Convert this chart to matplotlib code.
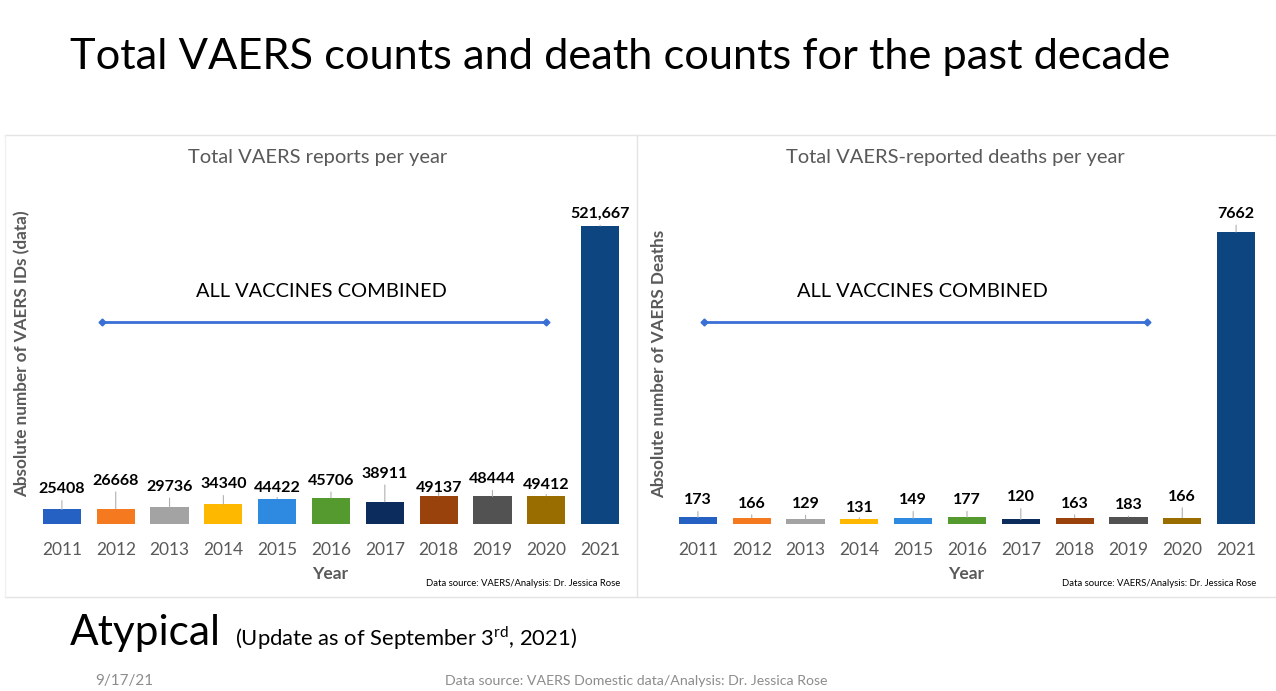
import matplotlib.pyplot as plt
from matplotlib.transforms import blended_transform_factory

plt.rcParams['font.family'] = ['Lato', 'DejaVu Sans']
plt.rcParams['mathtext.fontset'] = 'custom'
plt.rcParams['mathtext.rm'] = 'Lato'

W, H = 1276, 691

years = ['2011', '2012', '2013', '2014', '2015', '2016',
         '2017', '2018', '2019', '2020', '2021']
reports = [25408, 26668, 29736, 34340, 44422, 45706,
           38911, 49137, 48444, 49412, 521667]
report_labels = ['25408', '26668', '29736', '34340', '44422', '45706',
                 '38911', '49137', '48444', '49412', '521,667']
deaths = [173, 166, 129, 131, 149, 177, 120, 163, 183, 166, 7662]
death_labels = [str(d) for d in deaths]

bar_colors = ['#2461c2', '#f57a1f', '#a3a3a3', '#ffb800', '#2e8ae0', '#559a2e',
              '#0d2c5e', '#9a420c', '#525252', '#9a6d00', '#0c4580']

# callout offsets above the bar tops (pixels)
report_offsets = [20, 28, 20, 20, 11, 17, 28, 8, 17, 11, 12]
death_offsets = [17, 14, 15, 11, 18, 17, 22, 14, 12, 21, 18]


def fx(x):
    return x / W


def fy(y):
    return 1 - y / H


fig = plt.figure(figsize=(W / 100, H / 100), dpi=100)
fig.patch.set_facecolor('white')

# panel frame lines
frame = '#e4e4e4'
fig.add_artist(plt.Line2D([fx(5), 1], [fy(135), fy(135)], color=frame, lw=1))
fig.add_artist(plt.Line2D([fx(5), 1], [fy(597), fy(597)], color=frame, lw=1))
fig.add_artist(plt.Line2D([fx(637), fx(637)], [fy(135), fy(597)], color=frame, lw=1))
fig.add_artist(plt.Line2D([fx(5), fx(5)], [fy(135), fy(597)], color='#f0f0f0', lw=1))


def panel(left, ymax, values, labels, offsets, subtitle, ylabel, sub_x, ylab_x, ylab_y,
          arrow_x, text_x):
    ax = fig.add_axes([fx(left), fy(524), fx(592), (524 - 200) / H])
    xs = range(len(values))
    ax.bar(xs, values, width=0.71, color=bar_colors, zorder=2)
    ax.set_xlim(-0.5, 10.5)
    ax.set_ylim(0, ymax)
    for s in ax.spines.values():
        s.set_visible(False)
    ax.set_yticks([])
    ax.set_xticks(list(xs))
    ax.set_xticklabels(years, fontsize=12.5, color='#595959')
    ax.tick_params(axis='x', length=0, pad=13)

    for x, v, lab, off in zip(xs, values, labels, offsets):
        ax.annotate(lab, xy=(x, v), xytext=(0, off * 0.72), textcoords='offset points',
                    ha='center', va='center', fontsize=11.5, fontweight='bold', color='black',
                    arrowprops=dict(arrowstyle='-', color='#b0b0b0', lw=0.8,
                                    shrinkA=1, shrinkB=0))

    tr = blended_transform_factory(ax.transData, ax.transAxes)
    ax.plot(arrow_x, [0.623, 0.623], transform=tr, color='#3a6fd6', lw=2,
            marker='D', ms=3.5, clip_on=False)
    ax.text(text_x, 0.719, 'ALL VACCINES COMBINED', transform=tr, ha='center',
            va='center', fontsize=14.4, color='black')

    fig.text(fx(sub_x), fy(157), subtitle, ha='center', va='center',
             fontsize=14.5, color='#595959')
    fig.text(fx(ylab_x), fy(ylab_y), ylabel, rotation=90, ha='center', va='center',
             fontsize=12.3, fontweight='bold', color='#595959')
    fig.text(fx(left + 295), fy(574), 'Year', ha='center', va='center',
             fontsize=12.5, fontweight='bold', color='#595959')
    fig.text(fx(left + 585), fy(584), 'Data source: VAERS/Analysis: Dr. Jessica Rose',
             ha='right', va='center', fontsize=6.8, color='black')
    return ax


panel(35, 567200, reports, report_labels, report_offsets,
      'Total VAERS reports per year', 'Absolute number of VAERS IDs (data)',
      318, 22, 354, [0.75, 9.0], 4.83)
panel(671, 8502, deaths, death_labels, death_offsets,
      'Total VAERS-reported deaths per year', 'Absolute number of VAERS Deaths',
      955, 659, 364, [0.11, 8.35], 4.18)

fig.text(fx(70), fy(57), 'Total VAERS counts and death counts for the past decade',
         ha='left', va='center', fontsize=31.2, color='black')
fig.text(fx(70), fy(633), 'Atypical', ha='left', va='center', fontsize=30.5, color='black')
fig.text(fx(235), fy(638), r'(Update as of September 3$^{\mathrm{rd}}$, 2021)',
         ha='left', va='center', fontsize=15.8, color='black')
fig.text(fx(95), fy(681), '9/17/21', ha='left', va='center', fontsize=11, color='#8c8c8c')
fig.text(fx(636), fy(681), 'Data source: VAERS Domestic data/Analysis: Dr. Jessica Rose',
         ha='center', va='center', fontsize=10.2, color='#8c8c8c')

fig.savefig('out.png', dpi=100)
